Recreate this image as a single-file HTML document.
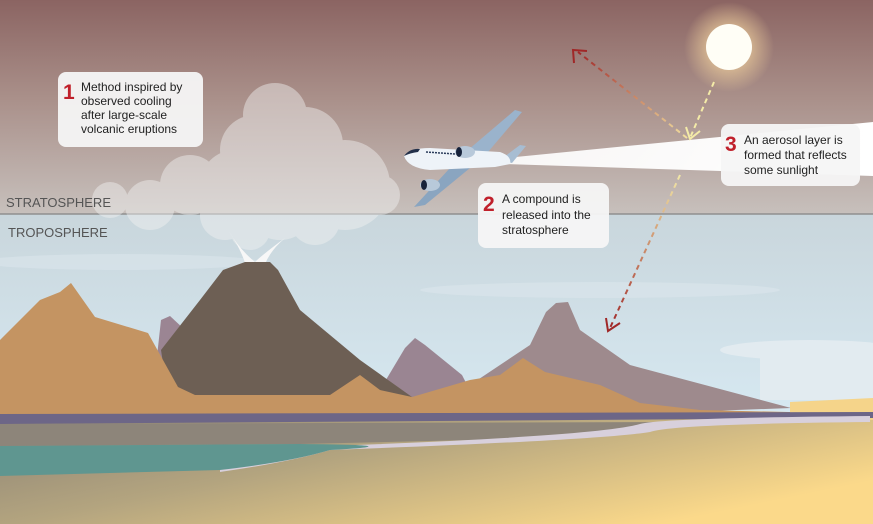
<!DOCTYPE html>
<html><head><meta charset="utf-8"><style>
html,body{margin:0;padding:0;width:873px;height:524px;overflow:hidden;font-family:"Liberation Sans",sans-serif}
</style></head><body>
<svg width="873" height="524" viewBox="0 0 873 524" xmlns="http://www.w3.org/2000/svg" font-family="Liberation Sans, sans-serif">
<defs>
<linearGradient id="sky" x1="0" y1="0" x2="0" y2="1">
<stop offset="0" stop-color="#8b6462"/><stop offset="0.45" stop-color="#a98f89"/><stop offset="1" stop-color="#c7c0bc"/>
</linearGradient>
<linearGradient id="tropo" x1="0" y1="0" x2="0" y2="1">
<stop offset="0" stop-color="#c9d6dc"/><stop offset="1" stop-color="#d6e8f1"/>
</linearGradient>
<radialGradient id="glow" cx="0.5" cy="0.5" r="0.5">
<stop offset="0.3" stop-color="#f6d7a0" stop-opacity="0.8"/><stop offset="1" stop-color="#f6d7a0" stop-opacity="0"/>
</radialGradient>
<linearGradient id="ground" x1="0" y1="0" x2="1" y2="0.6">
<stop offset="0" stop-color="#8b8275"/><stop offset="0.45" stop-color="#b3a47f"/><stop offset="1" stop-color="#fbd98a"/>
</linearGradient>
<linearGradient id="beam" x1="0" y1="0" x2="1" y2="0">
<stop offset="0" stop-color="#fff" stop-opacity="0.9"/><stop offset="1" stop-color="#fff"/>
</linearGradient>
<linearGradient id="arr1" x1="0" y1="1" x2="0" y2="0">
<stop offset="0" stop-color="#f2e0a0"/><stop offset="1" stop-color="#a02828"/>
</linearGradient>
<linearGradient id="arr2" x1="0" y1="0" x2="0" y2="1">
<stop offset="0" stop-color="#f2e8a8"/><stop offset="1" stop-color="#a02828"/>
</linearGradient>
</defs>
<rect width="873" height="214" fill="url(#sky)"/>
<rect y="214" width="873" height="200" fill="url(#tropo)"/>
<line x1="0" y1="214" x2="873" y2="214" stroke="#8f8f8f" stroke-width="1.5"/>
<ellipse cx="120" cy="262" rx="140" ry="8" fill="#dde8ee" opacity="0.5"/>
<ellipse cx="600" cy="290" rx="180" ry="8" fill="#dde8ee" opacity="0.5"/>
<ellipse cx="810" cy="350" rx="90" ry="10" fill="#e2ebf0"/>
<rect x="760" y="352" width="113" height="48" fill="#e2ebf0"/>
<!-- sun -->
<circle cx="729" cy="47" r="45" fill="url(#glow)"/>
<circle cx="729" cy="47" r="23" fill="#fffef6"/>
<!-- smoke cloud -->
<g fill="#f2f2f2" opacity="0.45">
<circle cx="275" cy="115" r="32"/><circle cx="305" cy="145" r="38"/><circle cx="255" cy="150" r="35"/>
<circle cx="345" cy="185" r="45"/><circle cx="235" cy="185" r="35"/><circle cx="190" cy="185" r="30"/>
<circle cx="150" cy="205" r="25"/><circle cx="110" cy="200" r="18"/><circle cx="280" cy="205" r="35"/>
<circle cx="225" cy="215" r="25"/><circle cx="315" cy="220" r="25"/><circle cx="380" cy="195" r="20"/>
<circle cx="300" cy="175" r="30"/><circle cx="250" cy="230" r="20"/>
</g>
<path d="M228,230 Q245,255 248,275 L262,275 Q265,255 285,238 Q262,255 255,262 Q240,250 228,230Z" fill="#f7f7f7"/>
<!-- beam -->
<polygon points="505,158 873,122 873,176 505,164" fill="url(#beam)"/>
<!-- arrows -->
<g fill="none" stroke-width="2" stroke-dasharray="5,4">
<line x1="714" y1="82" x2="690" y2="138" stroke="#f4eba8"/>
<line x1="687" y1="138" x2="578" y2="52" stroke="url(#arr1)"/>
<line x1="680" y1="175" x2="610" y2="328" stroke="url(#arr2)"/>
</g>
<polyline points="686,127 690,139 700,131" fill="none" stroke="#f4eba8" stroke-width="2"/>
<polyline points="574,63 573,50 587,51" fill="none" stroke="#a02828" stroke-width="2"/>
<polyline points="606,318 608,331 620,323" fill="none" stroke="#a02828" stroke-width="2"/>
<!-- plane -->
<g>
<polygon points="468,150 515,110 522,112 488,152" fill="#9ab3cc"/>
<polygon points="450,168 470,168 425,205 414,207" fill="#8aa5c0"/>
<polygon points="500,160 520,145 526,146 512,163" fill="#a7bdd2"/>
<path d="M404,156 Q410,148 430,148 L500,152 Q512,156 510,164 L495,167 L430,170 Q408,168 404,156Z" fill="#eef3f8"/>
<path d="M404,156 Q410,148 420,149 L418,152 Q410,153 404,156Z" fill="#22304a"/>
<line x1="426" y1="152" x2="470" y2="155" stroke="#2a3b5a" stroke-width="1.5" stroke-dasharray="2,1"/>
<ellipse cx="465" cy="152" rx="10" ry="6" fill="#b8c9da"/><ellipse cx="459" cy="152" rx="3" ry="5" fill="#16223a"/>
<ellipse cx="430" cy="185" rx="10" ry="6" fill="#b8c9da"/><ellipse cx="424" cy="185" rx="3" ry="5" fill="#16223a"/>
</g>
<!-- mountains -->
<polygon points="150,420 161,320 170,316 185,330 180,420" fill="#9b8593"/>
<polygon points="368,410 405,348 415,338 425,345 462,375 480,410" fill="#9a8592"/>
<polygon points="440,405 530,345 546,312 556,303 568,302 580,330 630,365 791,408 600,415" fill="#9e8a8d"/>
<polygon points="161,350 200,300 223,270 245,262 270,262 278,270 300,310 360,360 412,397 420,410 170,410" fill="#6d5f54"/>
<polygon points="0,340 20,320 40,300 60,292 71,283 95,317 148,333 178,387 195,395 330,395 360,375 380,390 412,397 470,380 500,375 523,358 545,372 600,385 640,403 700,410 873,414 873,418 0,418" fill="#c49462"/>
<!-- ground -->
<rect x="0" y="416" width="873" height="108" fill="url(#ground)"/>
<polygon points="790,402 873,398 873,420 790,420" fill="#f5d48a"/>
<polygon points="0,414 873,412 873,418 0,424" fill="#6d6687"/>
<polygon points="0,424 660,422 640,430 560,438 300,444 0,446" fill="#8d857a"/>
<path d="M640,424 Q660,418 870,416 L870,422 Q670,424 650,432 Q600,440 330,450 Q290,462 220,472 L220,466 Q290,452 330,446 Q600,436 640,424Z" fill="#d8d0dc"/>
<path d="M0,446 L300,444 Q420,445 330,450 Q290,462 220,470 L0,476Z" fill="#5f9690"/>
<!-- boxes -->
<g fill="#f5f5f5" opacity="0.95">
<rect x="58" y="72" width="145" height="75" rx="8"/>
<rect x="478" y="183" width="131" height="65" rx="8"/>
<rect x="721" y="124" width="139" height="62" rx="8"/>
</g>
<g font-size="12" fill="#222">
<text x="63" y="99" font-size="21" font-weight="bold" fill="#c0202b">1</text>
<text x="81" y="91">Method inspired by</text>
<text x="81" y="105">observed cooling</text>
<text x="81" y="119">after large-scale</text>
<text x="81" y="133">volcanic eruptions</text>
<text x="483" y="211" font-size="21" font-weight="bold" fill="#c0202b">2</text>
<text x="502" y="203">A compound is</text>
<text x="502" y="219">released into the</text>
<text x="502" y="234">stratosphere</text>
<text x="725" y="151" font-size="21" font-weight="bold" fill="#c0202b">3</text>
<text x="744" y="144">An aerosol layer is</text>
<text x="744" y="159">formed that reflects</text>
<text x="744" y="174">some sunlight</text>
</g>
<text x="6" y="207" font-size="13" fill="#555">STRATOSPHERE</text>
<text x="8" y="237" font-size="13" fill="#555">TROPOSPHERE</text>
</svg>
</body></html>
